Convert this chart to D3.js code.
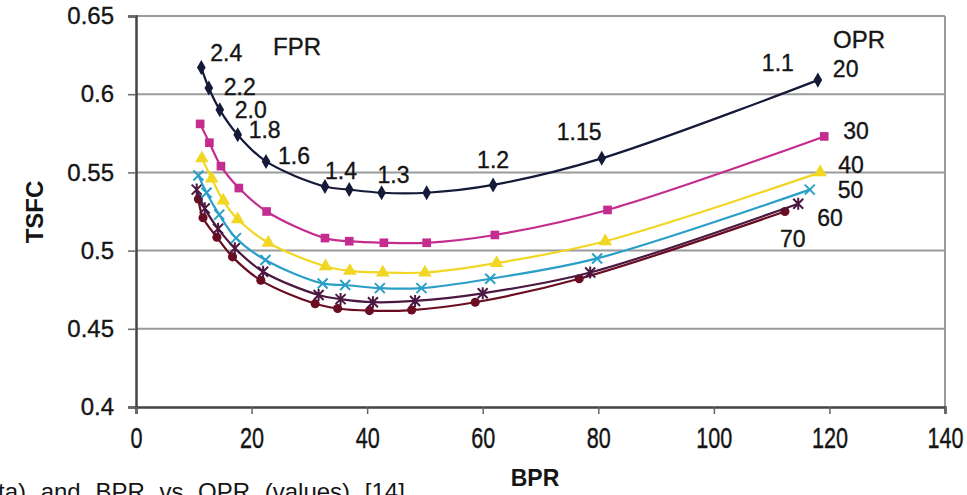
<!DOCTYPE html>
<html>
<head>
<meta charset="utf-8">
<script src="https://cdn.jsdelivr.net/npm/d3@7"></script>
<style>
  body { margin: 0; background: #fff; overflow: hidden; }
  text { font-family: "Liberation Sans", Arial, sans-serif; fill: #151515; }
  .lbl { stroke: #151515; stroke-width: 0.35; }
</style>
</head>
<body>
<div id="chart"></div>
<script>
// data
const oprNames = ['20', '30', '40', '50', '60', '70']

const bpr20 = [11.3, 12.6, 14.5, 17.6, 22.5, 32.7, 36.9, 42.5, 50.3, 61.8, 80.6, 118.0]
const tsfc20 = [0.617, 0.604, 0.590, 0.574, 0.557, 0.541, 0.539, 0.537, 0.537, 0.542, 0.559, 0.609]

const bpr30 = [11.1, 12.7, 14.7, 17.8, 22.6, 32.7, 36.9, 42.9, 50.3, 62.1, 81.6, 119.1]
const tsfc30 = [0.581, 0.569, 0.554, 0.540, 0.525, 0.508, 0.506, 0.505, 0.505, 0.510, 0.526, 0.573]

const bpr40 = [11.4, 13.1, 15.1, 17.6, 22.9, 32.8, 37.0, 42.7, 50.0, 62.4, 81.2, 118.4]
const tsfc40 = [0.559, 0.546, 0.532, 0.520, 0.505, 0.490, 0.487, 0.486, 0.486, 0.492, 0.506, 0.550]

const bpr50 = [10.8, 12.2, 14.4, 17.3, 22.4, 32.3, 36.2, 42.2, 49.4, 61.3, 79.8, 116.6]
const tsfc50 = [0.548, 0.537, 0.523, 0.508, 0.494, 0.479, 0.478, 0.476, 0.476, 0.482, 0.495, 0.539]

const bpr60 = [10.5, 11.9, 14.2, 17.1, 22.0, 31.6, 35.4, 41.0, 48.3, 60.0, 78.6, 114.6]
const tsfc60 = [0.539, 0.527, 0.514, 0.5015, 0.4865, 0.4716, 0.469, 0.467, 0.4678, 0.4727, 0.486, 0.530]

const bpr70 = [10.8, 11.6, 14.0, 16.7, 21.6, 31.0, 34.9, 40.4, 47.7, 58.7, 76.7, 112.3]
const tsfc70 = [0.533, 0.521, 0.5085, 0.496, 0.481, 0.466, 0.463, 0.4616, 0.462, 0.467, 0.482, 0.525]

// FPR labels on the OPR 20 curve: [point index, text]
const fprLabels = [[0, '2.4'], [1, '2.2'], [2, '2.0'], [3, '1.8'], [4, '1.6'], [5, '1.4'],
  [7, '1.3'], [9, '1.2'], [10, '1.15'], [11, '1.1']]

const xTicks = [0, 20, 40, 60, 80, 100, 120, 140]
const yTicks = [0.4, 0.45, 0.5, 0.55, 0.6, 0.65]

const width = 967
const height = 495
const margin = { top: 16, left: 136, right: 22, bottom: 88 }

const svg = d3.select('#chart').append('svg')
  .attr('width', width)
  .attr('height', height)

const x = d3.scaleLinear().domain([0, 140]).range([margin.left, width - margin.right])
const y = d3.scaleLinear().domain([0.4, 0.65]).range([height - margin.bottom, margin.top])

// grid
svg.append('g')
  .selectAll('line')
  .data(yTicks.slice(1))
  .enter().append('line')
  .attr('x1', x(0)).attr('x2', x(140))
  .attr('y1', d => y(d)).attr('y2', d => y(d))
  .attr('stroke', '#9a9a9a')
  .attr('stroke-width', 2)

// right border
svg.append('line')
  .attr('x1', x(140)).attr('x2', x(140))
  .attr('y1', y(0.65)).attr('y2', y(0.4))
  .attr('stroke', '#9a9a9a').attr('stroke-width', 2)

// axes
const yAxis = svg.append('g')
  .attr('transform', `translate(${x(0)},0)`)
  .call(d3.axisLeft(y).tickValues(yTicks).tickFormat(d3.format('~g')).tickSize(8).tickPadding(14))
const xAxis = svg.append('g')
  .attr('transform', `translate(0,${y(0.4)})`)
  .call(d3.axisBottom(x).tickValues(xTicks).tickSize(7).tickPadding(14))

;[yAxis, xAxis].forEach(a => {
  a.select('.domain').attr('stroke', '#444').attr('stroke-width', 2.5)
  a.selectAll('.tick line').attr('stroke', '#666').attr('stroke-width', 1.5)
  a.selectAll('.tick text')
    .attr('class', 'lbl')
    .attr('font-size', 24)
    .attr('font-family', '"Liberation Sans", Arial, sans-serif')
    .attr('fill', '#151515')
})
// x tick labels look narrow and tall in the picture
xAxis.selectAll('.tick text')
  .attr('dy', null)
  .attr('y', 0)
  .attr('transform', 'translate(0,30) scale(0.9,1.22) translate(0,9)')

// series
const series = [
  { name: oprNames[0], xs: bpr20, ys: tsfc20, color: '#151a38', marker: 'diamond' },
  { name: oprNames[1], xs: bpr30, ys: tsfc30, color: '#c42d8f', marker: 'square' },
  { name: oprNames[2], xs: bpr40, ys: tsfc40, color: '#f2d624', marker: 'triangle' },
  { name: oprNames[3], xs: bpr50, ys: tsfc50, color: '#2a9fc8', marker: 'cross' },
  { name: oprNames[4], xs: bpr60, ys: tsfc60, color: '#4a1840', marker: 'star' },
  { name: oprNames[5], xs: bpr70, ys: tsfc70, color: '#6b0d22', marker: 'circle' }
]

const line = d3.line()
  .x(d => x(d[0]))
  .y(d => y(d[1]))
  .curve(d3.curveCatmullRom.alpha(0.5))

const symbols = {
  diamond: d3.symbol().type(d3.symbolDiamond).size(65),
  square: d3.symbol().type(d3.symbolSquare).size(75),
  triangle: d3.symbol().type(d3.symbolTriangle).size(80),
  circle: d3.symbol().type(d3.symbolCircle).size(65)
}

// draw in reverse so the top curves sit on top
series.slice().reverse().forEach(s => {
  const pts = s.xs.map((v, i) => [v, s.ys[i]])
  const g = svg.append('g')
  g.append('path')
    .attr('d', line(pts))
    .attr('fill', 'none')
    .attr('stroke', s.color)
    .attr('stroke-width', 2.2)

  const m = g.selectAll('.pt')
    .data(pts)
    .enter().append('g')
    .attr('transform', d => `translate(${x(d[0])},${y(d[1])})`)

  if (symbols[s.marker]) {
    m.append('path').attr('d', symbols[s.marker]()).attr('fill', s.color)
  } else {
    const r = 5
    m.append('path')
      .attr('d', `M${-r},${-r}L${r},${r}M${-r},${r}L${r},${-r}` + (s.marker === 'star' ? `M0,${-r - 1}L0,${r + 1}` : ''))
      .attr('stroke', s.color)
      .attr('stroke-width', 2)
      .attr('fill', 'none')
  }
})

// FPR labels along the OPR 20 curve (offsets in px from the point)
const fprOffsets = [[9, -7], [15, 7], [15, 8], [11, 3], [12, 3], [0, -7], [-4, -10], [-16, -17], [-45, -18], [-56, -9]]
svg.append('g')
  .selectAll('text')
  .data(fprLabels)
  .enter().append('text')
  .attr('class', 'lbl')
  .attr('x', (d, i) => x(bpr20[d[0]]) + fprOffsets[i][0])
  .attr('y', (d, i) => y(tsfc20[d[0]]) + fprOffsets[i][1])
  .attr('font-size', 23)
  .text(d => d[1])

// OPR labels next to the last point of each curve
const oprOffsets = [[15, -3], [19, 3], [18, 1], [28, 8], [19, 22], [-5, 35]]
svg.append('g')
  .selectAll('text')
  .data(series)
  .enter().append('text')
  .attr('class', 'lbl')
  .attr('x', (d, i) => x(d.xs[d.xs.length - 1]) + oprOffsets[i][0])
  .attr('y', (d, i) => y(d.ys[d.ys.length - 1]) + oprOffsets[i][1])
  .attr('font-size', 23)
  .text(d => d.name)

svg.append('text').attr('class', 'lbl').attr('x', 273).attr('y', 55).attr('font-size', 24).text('FPR')
svg.append('text').attr('class', 'lbl').attr('x', 833).attr('y', 48).attr('font-size', 24).text('OPR')

// axis titles
svg.append('text')
  .attr('transform', 'translate(43,212) rotate(-90)')
  .attr('text-anchor', 'middle')
  .attr('font-size', 24)
  .attr('font-weight', 'bold')
  .text('TSFC')

svg.append('text')
  .attr('x', 535).attr('y', 486)
  .attr('text-anchor', 'middle')
  .attr('font-size', 23)
  .attr('font-weight', 'bold')
  .text('BPR')

// caption cut off at the bottom of the picture
svg.append('text')
  .attr('x', -2).attr('y', 500)
  .attr('font-size', 24)
  .attr('word-spacing', 8)
  .text('ta) and BPR vs OPR (values) [14]')
</script>
</body>
</html>
